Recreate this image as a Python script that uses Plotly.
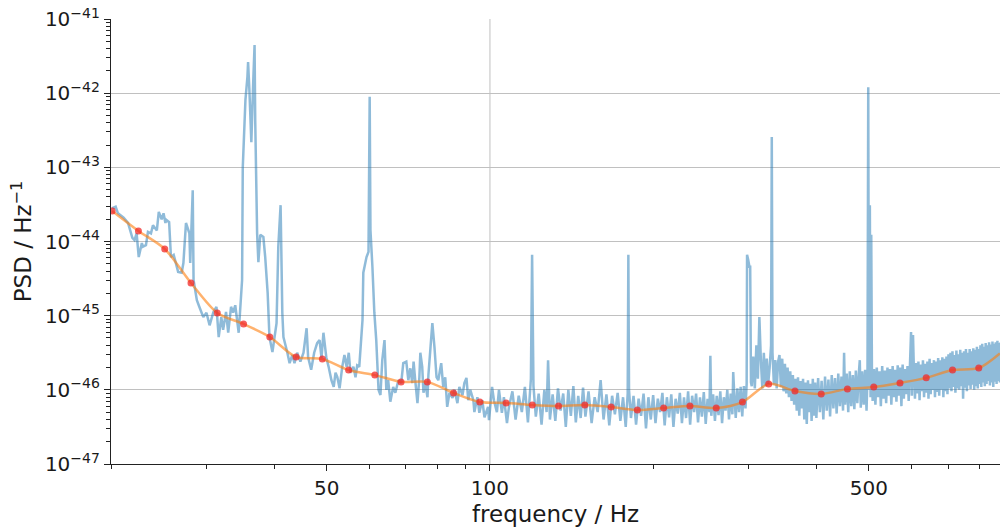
import numpy as np
import plotly.graph_objects as go

# ---- smoothed PSD estimate (orange line with red knots) ----
fit_freq = [20.1, 22.47, 25.13, 28.09, 31.41, 35.12, 39.26, 43.89, 49.07, 54.86,
            61.33, 68.55, 76.65, 85.68, 95.79, 107.1, 119.7, 133.8, 149.6, 167.3,
            187.0, 209.1, 233.8, 261.4, 292.2, 326.7, 365.2, 408.3, 456.4, 510.4,
            570.5, 637.8, 713.2, 797.2]
fit_psd = [2.58e-44, 1.39e-44, 7.93e-45, 2.76e-45, 1.09e-45, 7.73e-46, 5.16e-46, 2.77e-46, 2.61e-46, 1.85e-46,
           1.58e-46, 1.28e-46, 1.28e-46, 9.06e-47, 6.85e-47, 6.65e-47, 6.25e-47, 6.06e-47, 6.25e-47, 5.87e-47,
           5.35e-47, 5.69e-47, 6.06e-47, 5.69e-47, 6.85e-47, 1.20e-46, 9.64e-47, 8.79e-47, 1.03e-46, 1.09e-46,
           1.24e-46, 1.45e-46, 1.85e-46, 1.97e-46]
fit_end_freq = [872.0]
fit_end_psd = [3.1e-46]

# ---- measured PSD: (frequency Hz, log10 PSD [1/Hz]) ----
psd_20_108 = [
    (20.1, -43.55), (20.4, -43.53), (20.6, -43.62), (21.1, -43.68), (21.5, -43.75),
    (21.9, -43.95), (22.1, -43.98), (22.3, -43.89), (22.5, -44.21), (22.8, -44.02),
    (22.9, -44.07), (23.2, -44.05), (23.4, -43.87), (23.7, -43.89), (23.9, -43.78),
    (24.3, -43.85), (24.5, -43.60), (24.8, -43.70), (25.0, -43.62), (25.2, -43.75),
    (25.3, -43.71), (25.6, -43.74), (25.8, -44.21), (26.1, -44.18), (26.6, -44.41),
    (27.0, -44.42), (27.2, -44.29), (27.5, -43.75), (27.9, -43.89), (28.0, -44.29),
    (28.3, -43.31), (28.4, -44.52), (28.8, -44.79), (29.1, -44.88), (29.6, -45.02),
    (30.0, -44.96), (30.4, -45.13), (30.9, -44.95), (31.3, -44.88), (31.6, -45.29),
    (31.95, -45.02), (32.2, -45.19), (32.6, -44.95), (32.9, -45.23), (33.3, -44.88),
    (33.6, -44.96), (33.9, -44.86), (34.4, -45.23), (34.9, -44.52), (35.0, -43.00),
    (35.4, -42.09), (35.7, -41.78), (35.8, -41.58), (36.0, -41.96), (36.3, -42.66),
    (36.6, -41.82), (36.8, -41.35), (36.9, -42.36), (37.2, -43.89), (37.4, -44.28),
    (37.7, -43.91), (38.2, -43.94), (38.5, -44.21), (38.9, -44.69), (39.2, -45.29),
    (39.7, -45.49), (40.4, -45.10), (40.7, -44.07), (41.1, -43.51), (41.4, -44.96),
    (41.6, -45.29), (42.3, -45.50), (42.7, -45.64), (43.2, -45.53), (43.6, -45.64),
    (44.1, -45.50), (44.7, -45.62), (45.3, -45.50), (45.9, -45.17), (46.2, -45.56),
    (46.8, -45.73), (47.4, -45.50), (48.0, -45.37), (48.5, -45.33), (48.9, -45.57),
    (49.3, -45.23), (49.9, -45.56), (50.4, -45.69), (51.0, -45.87), (51.5, -45.96),
    (51.9, -45.77), (52.3, -45.83), (52.8, -45.98), (53.4, -45.69), (53.9, -45.53),
    (54.4, -45.69), (54.9, -45.50), (55.3, -45.77), (56.0, -45.69), (56.5, -45.83),
    (56.9, -45.67), (57.4, -45.69), (58.2, -45.06), (58.4, -44.42), (59.2, -44.21),
    (59.7, -44.14), (60.0, -42.05), (60.2, -43.85), (60.7, -44.34), (61.2, -44.96),
    (61.7, -45.33), (62.3, -46.00), (62.8, -46.07), (63.3, -45.60), (63.9, -45.33),
    (64.4, -46.00), (64.9, -45.87), (65.5, -46.16), (66.3, -45.96), (66.9, -46.04),
    (67.8, -45.87), (68.6, -45.91), (69.2, -45.64), (70.1, -45.62), (70.7, -45.87),
    (71.3, -45.71), (71.9, -45.91), (72.3, -45.62), (72.8, -45.87), (73.5, -46.18),
    (74.1, -45.83), (74.4, -45.50), (75.0, -45.69), (75.4, -46.04), (76.0, -45.91),
    (76.7, -46.10), (77.0, -45.80), (77.7, -45.42), (78.3, -45.10), (79.0, -45.42),
    (79.7, -45.83), (80.3, -45.87), (81.3, -45.64), (82.0, -45.96), (82.7, -45.83),
    (83.4, -46.23), (84.2, -46.04), (85.3, -46.11), (86.0, -46.00), (87.1, -46.18),
    (87.8, -45.96), (89.0, -46.07), (89.7, -45.91), (90.5, -45.84), (91.2, -46.14),
    (92.0, -46.00), (93.2, -46.14), (93.6, -46.30), (94.8, -46.10), (95.6, -46.31),
    (96.8, -46.14), (97.7, -46.37), (99.2, -46.23), (99.6, -46.41), (100.9, -45.96),
    (101.7, -46.14), (103.0, -46.30), (103.9, -46.00), (105.2, -46.31), (106.1, -46.10),
    (107.5, -46.45), (108.4, -46.23),
]

psd_110_149 = [
    (110, -46.02), (111.5, -46.40), (113, -46.08), (114.5, -46.30), (116, -45.96),
    (117.5, -46.44), (119, -45.85), (119.6, -44.18), (120.3, -45.95), (121.5, -46.36),
    (123, -46.05), (124.5, -46.47), (126, -46.00), (127.2, -46.30), (128, -45.60),
    (129, -46.40), (130.5, -46.06), (132, -46.42), (133.5, -45.98), (135, -46.28),
    (136.5, -46.05), (138, -46.50), (139.5, -46.00), (141, -46.35), (142.5, -45.95),
    (144, -46.44), (145.5, -46.08), (147, -46.38), (148.5, -45.97),
]

psd_150_303 = [
    (150, -46.36), (152, -46.02), (154, -46.45), (156, -46.10), (158, -46.30),
    (160, -45.87), (162, -46.40), (164, -46.06), (166, -46.48), (168, -46.08),
    (170, -46.33), (172, -46.04), (174, -46.42), (176, -46.10), (178, -46.50),
    (179.5, -46.05), (180, -44.18), (180.5, -46.00), (182, -46.38), (184, -46.08),
    (186, -46.47), (188, -46.12), (190, -46.35), (192, -46.05), (194, -46.52),
    (196, -46.10), (198, -46.40), (200, -46.07), (202, -46.45), (204, -46.12),
    (206, -46.30), (208, -46.04), (210, -46.48), (212, -46.10), (214, -46.37),
    (216, -46.06), (218, -46.50), (220, -46.12), (222, -46.32), (224, -46.04),
    (226, -46.45), (228, -46.10), (230, -46.38), (232, -46.02), (234, -46.47),
    (236, -46.08), (238, -46.30), (240, -46.05), (242, -46.44), (244, -46.10),
    (246, -46.36), (248, -46.03), (250, -46.46), (252, -46.12), (254, -46.30),
    (255, -45.54), (256, -46.35), (258, -46.06), (260, -46.42), (262, -46.08),
    (264, -46.34), (266, -46.02), (268, -46.45), (270, -46.10), (272, -46.28),
    (274, -46.00), (276, -46.40), (278, -46.05), (280, -46.33), (281, -45.76),
    (282, -46.00), (284, -46.38), (286, -45.98), (288, -46.30), (290, -45.96),
    (292, -46.36), (294, -45.95), (296, -46.25), (297.5, -45.92), (298, -44.18),
    (299.5, -44.25), (301, -44.34), (302, -44.34), (303, -45.90),
]

psd_304_507 = [
    (304, -45.95), (306, -45.55), (308, -45.98), (310, -45.40), (312, -45.85),
    (314, -45.02), (316, -45.60), (318, -45.98), (320, -45.50), (322, -45.95),
    (324, -45.58), (326, -45.92), (328, -45.70), (330, -45.40), (331, -42.59),
    (332, -45.50), (334, -45.93), (336, -45.60), (338, -45.98), (340, -45.62),
    (342, -45.53), (344, -45.96), (346, -45.58), (348, -46.02), (350, -45.65),
    (352, -46.05), (354, -45.70), (356, -46.10), (358, -45.75), (360, -46.15),
    (362, -45.80), (364, -46.20), (366, -45.85), (368, -46.28), (370, -45.83),
    (372, -46.35), (374, -45.88), (376, -46.25), (378, -45.85), (380, -46.40),
    (382, -45.90), (384, -46.46), (386, -45.87), (388, -46.30), (390, -45.92),
    (392, -46.42), (394, -45.85), (396, -46.35), (398, -45.90), (400, -46.38),
    (403, -45.84), (406, -46.30), (409, -45.88), (412, -46.40), (415, -45.82),
    (418, -46.28), (421, -45.86), (424, -46.36), (427, -45.80), (430, -46.25),
    (433, -45.84), (436, -46.32), (439, -45.78), (442, -46.22), (445, -45.82),
    (448, -46.28), (450, -45.50), (452, -46.20), (455, -45.78), (458, -46.30),
    (461, -45.75), (464, -46.22), (467, -45.80), (470, -46.26), (473, -45.74),
    (476, -46.18), (479, -45.78), (481, -45.60), (483, -46.24), (486, -45.75),
    (489, -46.20), (492, -45.73), (495, -46.28), (497, -45.80), (498.6, -41.92),
    (500, -46.00), (502, -43.51), (503.5, -46.10), (505, -43.91), (506.5, -45.80),
]

psd_508_875 = [
    (508, -46.15), (511, -45.72), (514, -46.20), (517, -45.70), (520, -46.10),
    (523, -45.75), (526, -46.22), (529, -45.68), (532, -46.12), (535, -45.74),
    (538, -46.18), (541, -45.70), (544, -46.08), (547, -45.72), (550, -46.20),
    (553, -45.68), (556, -46.10), (559, -45.73), (562, -46.16), (565, -45.67),
    (568, -46.08), (571, -45.70), (574, -46.22), (577, -45.66), (580, -46.12),
    (583, -45.72), (586, -46.06), (589, -45.68), (592, -46.15), (595, -45.70),
    (598, -45.22), (600, -46.08), (603, -45.26), (605, -45.68), (608, -46.12),
    (611, -45.64), (614, -46.05), (617, -45.62), (620, -46.14), (623, -45.66),
    (626, -46.02), (629, -45.60), (632, -46.10), (635, -45.65), (638, -46.04),
    (641, -45.62), (644, -46.12), (647, -45.58), (650, -46.06), (653, -45.64),
    (656, -46.00), (659, -45.60), (662, -46.10), (665, -45.62), (668, -46.03),
    (671, -45.57), (674, -46.08), (677, -45.60), (680, -46.00), (683, -45.56),
    (686, -46.10), (689, -45.58), (692, -46.02), (695, -45.55), (698, -46.06),
    (701, -45.52), (704, -45.98), (707, -45.50), (710, -46.02), (713, -45.48),
    (716, -45.96), (719, -45.53), (722, -46.04), (725, -45.47), (728, -45.98),
    (731, -45.52), (734, -46.00), (737, -45.46), (740, -45.95), (743, -45.50),
    (746, -46.12), (749, -45.48), (752, -45.97), (755, -45.45), (758, -46.02),
    (761, -45.50), (764, -45.94), (767, -45.45), (770, -45.99), (773, -45.48),
    (776, -45.93), (779, -45.44), (782, -46.00), (785, -45.46), (788, -45.95),
    (791, -45.42), (794, -45.98), (797, -45.45), (800, -45.92), (803, -45.40),
    (806, -45.96), (809, -45.38), (812, -45.90), (815, -45.42), (818, -45.95),
    (821, -45.37), (824, -45.92), (827, -45.40), (830, -45.88), (833, -45.36),
    (836, -45.94), (839, -45.39), (842, -45.90), (845, -45.35), (848, -45.96),
    (851, -45.38), (854, -45.89), (857, -45.36), (860, -45.92), (863, -45.34),
    (866, -45.88), (869, -45.37), (872, -45.90), (875, -45.36),
]

# ---- axis ticks ----
x_major = [50, 100, 500]
x_major_text = ["50", "100", "500"]
x_minor = [20, 30, 40, 60, 70, 80, 90, 200, 300, 400, 600, 700, 800]
y_exponents = list(range(-47, -40))

measured = psd_20_108 + psd_110_149 + psd_150_303 + psd_304_507 + psd_508_875
meas_f = [p[0] for p in measured]
meas_p = [10.0 ** p[1] for p in measured]

fig = go.Figure()
fig.add_trace(go.Scatter(
    x=meas_f, y=meas_p, mode="lines",
    line=dict(color="rgba(31,119,180,0.5)", width=2.5, simplify=False),
    hoverinfo="skip", showlegend=False))
fig.add_trace(go.Scatter(
    x=fit_freq + fit_end_freq, y=fit_psd + fit_end_psd, mode="lines",
    line=dict(color="rgba(255,127,14,0.6)", width=2.5, shape="spline", smoothing=0.8),
    showlegend=False))
fig.add_trace(go.Scatter(
    x=fit_freq, y=fit_psd, mode="markers",
    marker=dict(color="rgba(240,40,40,0.75)", size=7, line=dict(width=0)),
    showlegend=False))

axis_col = "#222222"
grid_col = "#c0c0c0"

fig.update_layout(
    width=1000, height=531,
    margin=dict(l=111, r=0, t=19, b=67),
    paper_bgcolor="white", plot_bgcolor="white",
    font=dict(family="DejaVu Sans", size=20, color="#1a1a1a"),
    showlegend=False,
    shapes=[dict(type="line", xref="x", yref="paper", x0=100, x1=100, y0=0, y1=1,
                 line=dict(color=grid_col, width=1), layer="below")],
)

fig.update_xaxes(
    type="log", range=[np.log10(20), np.log10(872.5)],
    tickmode="array", tickvals=x_major, ticktext=x_major_text,
    tickfont=dict(size=20),
    ticks="outside", ticklen=6, tickwidth=1, tickcolor=axis_col,
    showline=True, linecolor=axis_col, linewidth=1.2, mirror=False,
    showgrid=False, zeroline=False, automargin=False,
    minor=dict(tickmode="array", tickvals=x_minor, ticks="outside", ticklen=3.5,
               tickwidth=1, tickcolor=axis_col, showgrid=False),
    title=dict(text="frequency / Hz", font=dict(size=23), standoff=6),
)

fig.update_yaxes(
    type="log", range=[-47, -41],
    tickmode="array", tickvals=[10.0 ** e for e in y_exponents],
    ticktext=["10<sup>\u2212%d</sup>" % (-e) for e in y_exponents],
    tickfont=dict(size=20),
    ticks="outside", ticklen=6, tickwidth=1, tickcolor=axis_col,
    showline=True, linecolor=axis_col, linewidth=1.2, mirror=False,
    showgrid=True, gridcolor=grid_col, gridwidth=1, zeroline=False, automargin=False,
    minor=dict(tickmode="array",
               tickvals=[m * 10.0 ** e for e in y_exponents[:-1] for m in range(2, 10)],
               ticks="outside", ticklen=3.5, tickwidth=1, tickcolor=axis_col, showgrid=False),
    title=dict(text="PSD / Hz<sup>\u22121</sup>", font=dict(size=23), standoff=6),
)

fig.write_html("out.html")
